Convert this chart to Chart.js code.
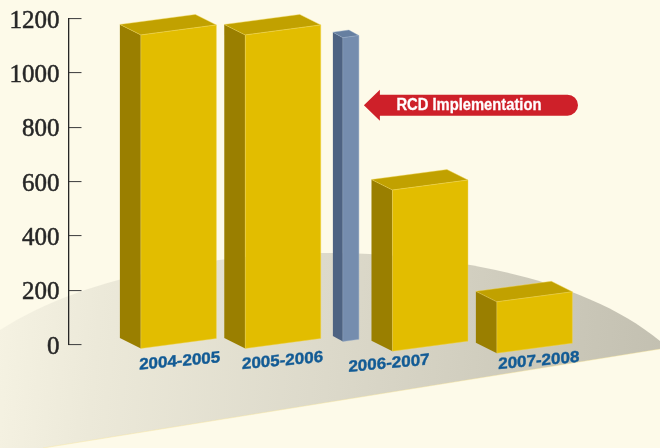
<!DOCTYPE html>
<html>
<head>
<meta charset="utf-8">
<title>RCD Implementation</title>
<script src="https://cdn.jsdelivr.net/npm/chart.js@4"></script>
<style>
  html, body { margin: 0; background: #fdfae9; }
  canvas { display: block; }
</style>
</head>
<body>
<canvas id="rcd-chart" width="660" height="448"></canvas>
<script>
const categories = ['2004-2005', '2005-2006', '2006-2007', '2007-2008'];
const barSlots = [1.055, 2.055, 2.705, 3.465, 4.465];
const yellowValues = [1156, 1156, null, 595, 191];
const blueValues = [null, null, 1120, null, null];
const yTicks = [0, 200, 400, 600, 800, 1000, 1200];
const calloutText = 'RCD Implementation';
const calloutValue = 881;

// where each category label sits on the x scale, and how far under the baseline
const labelSlots = [1.065, 2.05, 3.07, 4.505];
const labelDrops = [17, 16.5, 19.2, 16.5];
// the floor is not level, so each bar's foot moves up or down a little
const footShift = [-0.5, -0.5, -3.6, 2.2, 4.2];
const skew = 0.1325;

// shaded floor under the bars
const floorPlugin = {
  id: 'floor',
  beforeDraw(chart) {
    const ctx = chart.ctx;
    const grad = ctx.createLinearGradient(0, 310, 660, 370);
    grad.addColorStop(0, '#f5f2e2');
    grad.addColorStop(0.15, '#ece9d9');
    grad.addColorStop(0.5, '#dcd9ca');
    grad.addColorStop(1, '#c3c0b1');
    ctx.save();
    ctx.beginPath();
    ctx.moveTo(0, 330);
    ctx.bezierCurveTo(90, 272, 230, 253, 325, 253);
    ctx.bezierCurveTo(440, 253, 580, 275, 660, 341);
    ctx.lineTo(660, 349);
    ctx.lineTo(43, 448);
    ctx.lineTo(0, 448);
    ctx.closePath();
    ctx.fillStyle = grad;
    ctx.fill();

    // thin pale rim along the front edge
    ctx.beginPath();
    ctx.moveTo(660, 349);
    ctx.lineTo(43, 448);
    ctx.strokeStyle = 'rgba(248, 226, 140, 0.45)';
    ctx.lineWidth = 0.8;
    ctx.stroke();
    ctx.restore();
  }
};

const poly = (ctx, pts, fill, edge) => {
  ctx.beginPath();
  pts.forEach((p, i) => (i ? ctx.lineTo(p[0], p[1]) : ctx.moveTo(p[0], p[1])));
  ctx.closePath();
  ctx.fillStyle = fill;
  ctx.fill();
  if (edge) {
    ctx.strokeStyle = edge;
    ctx.lineWidth = 0.6;
    ctx.stroke();
  }
};

// replaces the flat bars with boxes built from each bar element's own geometry
const boxPlugin = {
  id: 'boxes',
  beforeDatasetDraw(chart, args) {
    const ctx = chart.ctx;
    const ds = chart.data.datasets[args.index];
    const dx = ds.depthX;
    const dy = ds.depthY;

    args.meta.data.forEach((bar, i) => {
      if (ds.data[i] === null) return;
      const half = bar.width / 2;
      const l = bar.x - half;
      const r = bar.x + half;
      const top = bar.y + footShift[i];
      const foot = bar.base + footShift[i];
      const drop = half * skew;

      const fl = [l, top + drop];
      const fr = [r, top - drop];
      const bl = [l, foot + drop];
      const br = [r, foot - drop];

      poly(ctx, [fl, bl, [bl[0] + dx, bl[1] + dy], [fl[0] + dx, fl[1] + dy]], ds.sideColor);
      poly(ctx, [fl, fr, [fr[0] + dx, fr[1] + dy], [fl[0] + dx, fl[1] + dy]], ds.topColor, ds.edgeColor);
      poly(ctx, [fl, fr, br, bl], ds.backgroundColor, ds.edgeColor);
    });
    return false;
  }
};

// slanted category labels and the red callout arrow
const notesPlugin = {
  id: 'notes',
  afterDatasetsDraw(chart) {
    const ctx = chart.ctx;
    const x = chart.scales.x;
    const y = chart.scales.y;

    ctx.save();
    ctx.font = 'bold 16px "Liberation Sans"';
    ctx.fillStyle = '#125b95';
    ctx.strokeStyle = '#125b95';
    ctx.lineWidth = 0.4;
    ctx.textAlign = 'center';
    ctx.textBaseline = 'middle';
    categories.forEach((label, i) => {
      ctx.save();
      ctx.transform(1.06, -0.095, 0, 1, x.getPixelForValue(labelSlots[i]), y.getPixelForValue(0) + labelDrops[i]);
      ctx.fillText(label, 0, 0);
      ctx.strokeText(label, 0, 0);
      ctx.restore();
    });
    ctx.restore();

    const blueBar = chart.getDatasetMeta(1).data[2];
    const tip = blueBar.x + blueBar.width / 2 + 5;
    const cy = y.getPixelForValue(calloutValue);
    const neck = tip + 16;
    const end = 578;
    const rad = 10.5;

    ctx.save();
    ctx.fillStyle = '#ce2029';
    ctx.beginPath();
    ctx.moveTo(tip, cy);
    ctx.lineTo(neck, cy - 15.5);
    ctx.lineTo(neck, cy - rad);
    ctx.lineTo(end - rad, cy - rad);
    ctx.arc(end - rad, cy, rad, -Math.PI / 2, Math.PI / 2);
    ctx.lineTo(neck, cy + rad);
    ctx.lineTo(neck, cy + 15.5);
    ctx.closePath();
    ctx.fill();

    ctx.font = 'bold 16px "Liberation Sans"';
    ctx.fillStyle = '#ffffff';
    ctx.strokeStyle = '#ffffff';
    ctx.lineWidth = 0.3;
    ctx.textAlign = 'left';
    ctx.textBaseline = 'middle';
    ctx.transform(0.922, 0, 0, 1, neck + 16.5, cy + 0.5);
    ctx.fillText(calloutText, 0, 0);
    ctx.strokeText(calloutText, 0, 0);
    ctx.restore();
  }
};

const ctx = document.getElementById('rcd-chart').getContext('2d');
const rcdChart = new Chart(ctx, {
  type: 'bar',
  data: {
    labels: barSlots,
    datasets: [
      {
        data: yellowValues,
        backgroundColor: '#e2bd00',
        sideColor: '#9a7f00',
        topColor: '#c1a100',
        edgeColor: 'rgba(240, 214, 90, 0.7)',
        depthX: -21,
        depthY: -10.5,
        barThickness: 75.5,
        grouped: false
      },
      {
        data: blueValues,
        backgroundColor: '#758dae',
        sideColor: '#4e6382',
        topColor: '#667fa0',
        edgeColor: 'rgba(150, 172, 200, 0.7)',
        depthX: -10,
        depthY: -5.5,
        barThickness: 16,
        grouped: false
      }
    ]
  },
  options: {
    responsive: false,
    animation: false,
    layout: { padding: { top: 18.5, bottom: 103.5 } },
    plugins: {
      legend: { display: false },
      tooltip: { enabled: false }
    },
    scales: {
      x: { type: 'linear', display: false, offset: false, min: 0, max: 5.666 },
      y: {
        min: 0,
        max: 1200,
        afterFit: (scale) => {
          scale.width = 68.5;
          scale.paddingTop = 0;
          scale.paddingBottom = 0;
        },
        afterBuildTicks: (scale) => { scale.ticks = yTicks.map((v) => ({ value: v })); },
        border: { color: '#262626', width: 1.3 },
        grid: { drawOnChartArea: false, tickLength: -13, color: '#4a4a4a', lineWidth: 1.1 },
        ticks: {
          padding: 22,
          color: '#262626',
          textStrokeColor: '#262626',
          textStrokeWidth: 0.5,
          font: { family: '"Liberation Serif"', size: 25, lineHeight: 0.2 },
          // empty first line nudges the digits down under their tick
          callback: (v) => ['', String(v)]
        }
      }
    }
  },
  plugins: [floorPlugin, boxPlugin, notesPlugin]
});
</script>
</body>
</html>
